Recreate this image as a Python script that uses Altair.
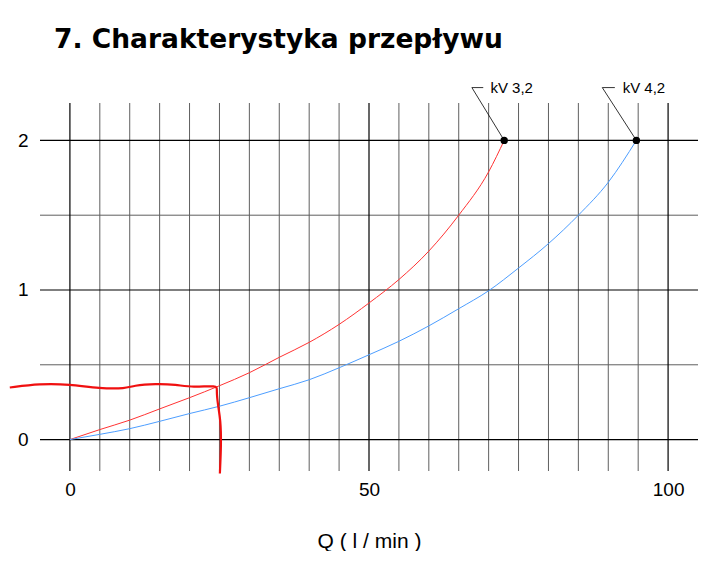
import altair as alt
import pandas as pd

# flow Q (l/min) vs pressure drop (bar)
q_kv32 = [0, 5, 10, 15, 20, 25, 30, 35, 40, 45, 50, 55, 60, 65, 70, 72.6]
dp_kv32 = [0, 0.067, 0.13, 0.205, 0.28, 0.36, 0.447, 0.55, 0.65, 0.77, 0.913, 1.07, 1.26, 1.5, 1.79, 2.0]
q_kv42 = [0, 5, 10, 15, 20, 25, 30, 35, 40, 45, 50, 55, 60, 65, 70, 75, 80, 85, 90, 94.7]
dp_kv42 = [0, 0.035, 0.073, 0.122, 0.174, 0.223, 0.28, 0.34, 0.40, 0.48, 0.567, 0.657, 0.76, 0.875, 0.995, 1.147, 1.31, 1.5, 1.72, 2.0]

# hand-drawn red reading line (pen mark on the scan)
pen_q = [-10.05, -5.05, -0.05, 4.95, 9.4, 10.5, 14.4, 17.7, 20.5, 24.7, 24.5, 24.7, 25.2, 25.3, 25.07]
pen_dp = [0.348, 0.374, 0.37, 0.341, 0.341, 0.361, 0.374, 0.368, 0.348, 0.363, 0.334, 0.24, 0.129, -0.027, -0.227]

# end points and their labels
labels = ["kV 3,2", "kV 4,2"]
end_q = [72.6, 94.7]
end_dp = [2.0, 2.0]
leader_q = [[72.6, 67.2, 69.1], [94.7, 89.0, 91.1]]
leader_dp = [2.0, 2.353, 2.353]
label_q = [70.3, 92.4]
label_dp = 2.353

minor_q = [5, 10, 15, 20, 25, 30, 35, 40, 45, 55, 60, 65, 70, 75, 80, 85, 90, 95]
major_q = [0, 50, 100]
minor_dp = [0.5, 1.5]
major_dp = [0, 1, 2]

curves = pd.concat([
    pd.DataFrame({"Q": q_kv32, "dp": dp_kv32, "kv": "kV 3,2"}),
    pd.DataFrame({"Q": q_kv42, "dp": dp_kv42, "kv": "kV 4,2"}),
])
pen = pd.DataFrame({"Q": pen_q, "dp": pen_dp, "i": range(len(pen_q))})
ends = pd.DataFrame({"Q": end_q, "dp": end_dp, "kv": labels})
leaders = pd.concat([
    pd.DataFrame({"Q": qs, "dp": leader_dp, "kv": lab, "i": [0, 1, 2]})
    for qs, lab in zip(leader_q, labels)
])
texts = pd.DataFrame({"Q": label_q, "dp": label_dp, "kv": labels})

xs = alt.Scale(domain=[-5, 105], nice=False, zero=False)
ys = alt.Scale(domain=[-0.21, 2.25], nice=False, zero=False)

x_axis = alt.Axis(values=[0, 50, 100], ticks=False, domain=False, grid=False,
                  labelFontSize=19, labelPadding=9, labelColor="black",
                  labelFont="Liberation Sans", format="d",
                  title="Q ( l / min )", titleFontSize=21, titleFontWeight="normal",
                  titleFont="Liberation Sans", titleColor="black", titlePadding=31)
y_axis = alt.Axis(values=[0, 1, 2], ticks=False, domain=False, grid=False,
                  labelFontSize=19, labelPadding=12, labelColor="black",
                  labelFont="Liberation Sans", format="d", title=None)

base = alt.Chart(curves)

grid_minor_v = alt.Chart(pd.DataFrame({"Q": minor_q})).mark_rule(
    color="#5f5f5f", strokeWidth=1).encode(x=alt.X("Q:Q", scale=xs, axis=x_axis))
grid_major_v = alt.Chart(pd.DataFrame({"Q": major_q})).mark_rule(
    color="black", strokeWidth=1.2).encode(x=alt.X("Q:Q", scale=xs))
grid_minor_h = alt.Chart(pd.DataFrame({"dp": minor_dp})).mark_rule(
    color="#5f5f5f", strokeWidth=1).encode(y=alt.Y("dp:Q", scale=ys, axis=y_axis))
grid_major_h = alt.Chart(pd.DataFrame({"dp": major_dp})).mark_rule(
    color="black", strokeWidth=1.2).encode(y=alt.Y("dp:Q", scale=ys))

lines = base.mark_line(strokeWidth=1, interpolate="monotone", clip=False).encode(
    x=alt.X("Q:Q", scale=xs),
    y=alt.Y("dp:Q", scale=ys),
    color=alt.Color("kv:N", scale=alt.Scale(domain=labels, range=["#ff3333", "#4d9eff"]),
                    legend=None),
)

pen_line = alt.Chart(pen).mark_line(color="#f01010", strokeWidth=2.2,
                                    interpolate="basis", clip=False).encode(
    x=alt.X("Q:Q", scale=xs), y=alt.Y("dp:Q", scale=ys), order="i:Q")

leader_lines = alt.Chart(leaders).mark_line(color="black", strokeWidth=0.8, clip=False).encode(
    x=alt.X("Q:Q", scale=xs), y=alt.Y("dp:Q", scale=ys), detail="kv:N", order="i:Q")

dots = alt.Chart(ends).mark_circle(color="black", size=55, opacity=1, clip=False).encode(
    x=alt.X("Q:Q", scale=xs), y=alt.Y("dp:Q", scale=ys))

label_text = alt.Chart(texts).mark_text(align="left", baseline="middle", fontSize=15,
                                        font="Liberation Sans", color="black", clip=False).encode(
    x=alt.X("Q:Q", scale=xs), y=alt.Y("dp:Q", scale=ys), text="kv:N")

chart = alt.layer(
    grid_minor_v, grid_minor_h, grid_major_v, grid_major_h,
    lines, pen_line, leader_lines, dots, label_text,
).properties(
    width=658,
    height=368,
    autosize=alt.AutoSizeParams(type="none"),
    padding={"left": 32, "top": 95, "right": 8, "bottom": 80},
    title=alt.TitleParams("7. Charakterystyka przepływu", anchor="start", frame="group",
                          font="DejaVu Sans", fontSize=26.5, fontWeight="bold",
                          color="black", dx=14, offset=27),
).configure_view(strokeWidth=0)

chart.save("out.html", embed_options={"renderer": "svg", "actions": False})
